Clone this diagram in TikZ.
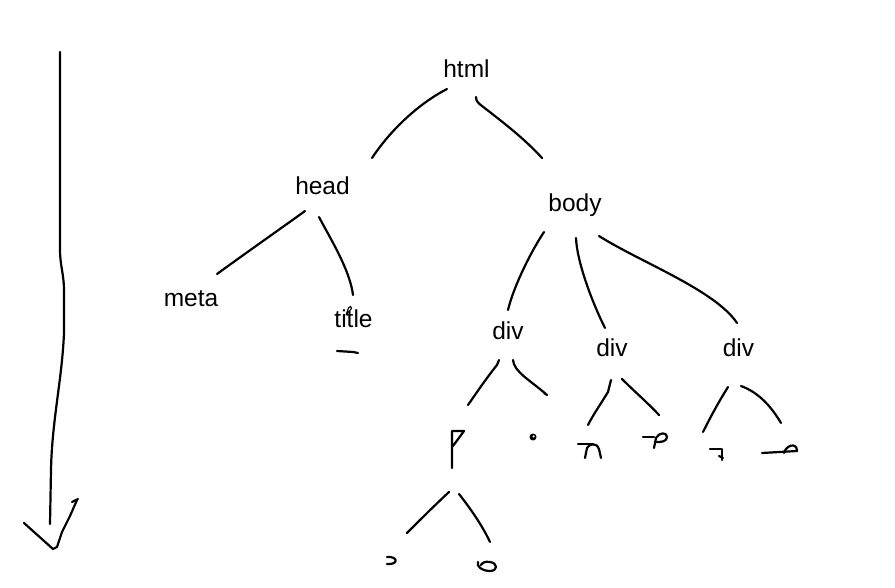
\documentclass[tikz,border=0pt]{standalone}
\usepackage{fontspec}
\setmainfont{Liberation Sans}
\begin{document}
\begin{tikzpicture}[x=1pt,y=-1pt,
  pen/.style={line width=2.2pt, line cap=round, line join=round},
  thin pen/.style={line width=1.1pt, line cap=round, line join=round},
  lbl/.style={anchor=base, inner sep=0pt, font=\fontsize{24.5}{29}\selectfont}]
\useasboundingbox[fill=white] (0,0) rectangle (895,588);

% labels
\node[lbl] (html) at (466.5,78) {html};
\node[lbl] (head) at (322.5,195) {head};
\node[lbl] (body) at (575,212) {body};
\node[lbl] (meta) at (191,307) {meta};
\node[lbl] (title) at (353.5,327) {title};
\node[lbl] (diva) at (508,339) {div};
\node[lbl] (divb) at (612,356) {div};
\node[lbl] (divc) at (738.5,356) {div};

% stroke end points
\coordinate (hl1) at (447,89);  \coordinate (hl2) at (372,158);
\coordinate (hr1) at (476,97);  \coordinate (hr2) at (542,158);
\coordinate (el1) at (305,211); \coordinate (el2) at (217,274);
\coordinate (er1) at (319,217); \coordinate (er2) at (353,295);
\coordinate (b11) at (544,232); \coordinate (b12) at (508,310);
\coordinate (b21) at (576,238); \coordinate (b22) at (605,328);
\coordinate (b31) at (599,236); \coordinate (b32) at (737,323);
\coordinate (d11) at (499,360); \coordinate (d12) at (468,405);
\coordinate (d21) at (513,360); \coordinate (d22) at (547,395);
\coordinate (e11) at (611,380); \coordinate (e12) at (588,425);
\coordinate (e21) at (622,379); \coordinate (e22) at (659,415);
\coordinate (f11) at (728,387); \coordinate (f12) at (703,432);
\coordinate (f21) at (741,386); \coordinate (f22) at (781,423);
\coordinate (p11) at (449,492); \coordinate (p12) at (407,533);
\coordinate (p21) at (459,494); \coordinate (p22) at (490,542);
\coordinate (atop) at (60,52);  \coordinate (abot) at (50,524);

% tree strokes
\draw[pen] (hl1) .. controls (420,103) and (392,128) .. (hl2);
\draw[pen] (hr1) .. controls (476,101) and (478,103) .. (482,106) .. controls (500,120) and (524,138) .. (hr2);
\draw[pen] (el1) .. controls (290,222) and (250,250) .. (el2);
\draw[pen] (er1) .. controls (330,238) and (350,270) .. (er2);
\draw[pen] (b11) .. controls (532,250) and (514,285) .. (b12);
\draw[pen] (b21) .. controls (577,262) and (592,302) .. (b22);
\draw[pen] (b31) .. controls (640,262) and (715,290) .. (b32);
\draw[pen] (d11) -- (497,365) .. controls (485,380) and (475,395) .. (d12);
\draw[pen] (d21) .. controls (514,372) and (530,380) .. (d22) -- (544,393);
\draw[pen] (e11) -- (608,392) .. controls (600,405) and (593,415) .. (e12);
\draw[pen] (e21) .. controls (635,392) and (650,405) .. (e22);
\draw[pen] (f11) .. controls (718,403) and (710,418) .. (f12);
\draw[pen] (f21) .. controls (760,393) and (772,408) .. (f22);
\draw[pen] (p11) .. controls (435,505) and (420,520) .. (p12);
\draw[pen] (p21) .. controls (470,508) and (482,525) .. (p22);

% underline and mark on title
\draw[pen] (337,351) -- (353,352) -- (358,353);
\draw[thin pen] (346,315) -- (348.5,308) .. controls (349.5,305.5) and (352,306) .. (351.5,308.5) -- cycle;

% small scribbled marks
\draw[pen] (452,468) -- (452,431) -- (464,431) -- (453,446);
\fill (533,437) circle (3.5);
\fill[white] (533.6,436.4) circle (1.2);
\draw[pen] (578,444) -- (593,444);
\draw[pen] (585,458) -- (587,448) .. controls (589,443) and (598,443) .. (599,449) -- (601,458);
\draw[pen] (643,437) -- (654,437);
\draw[pen] (654,448) -- (656,438) .. controls (659,432) and (667,432) .. (667,437) .. controls (667,442) and (660,442) .. (657,442);
\draw[pen] (710,449) -- (722,449) -- (722,460);
\draw[pen] (719,456) -- (723,458);
\draw[pen] (762,453) -- (797,451);
\draw[pen] (784,453) .. controls (786,445) and (797,442) .. (797,451);
\draw[pen] (387,557) .. controls (398,556) and (399,565) .. (387,564);
\draw[pen] (478,562) .. controls (476,566) and (482,571) .. (490,571) .. controls (498,571) and (498,563) .. (490,562) .. controls (485,561) and (482,563) .. (481,565);

% long arrow on the left
\draw[pen] (atop) -- (60,250) .. controls (60,265) and (64,275) .. (64,290) -- (64,333) .. controls (62,380) and (52,420) .. (51,470) -- (abot);
\draw[pen] (24,523) -- (53,549) -- (57,547) -- (62,532) -- (70,516) -- (77,500);
\draw[pen] (72,502) -- (78,499);
\end{tikzpicture}
\end{document}
